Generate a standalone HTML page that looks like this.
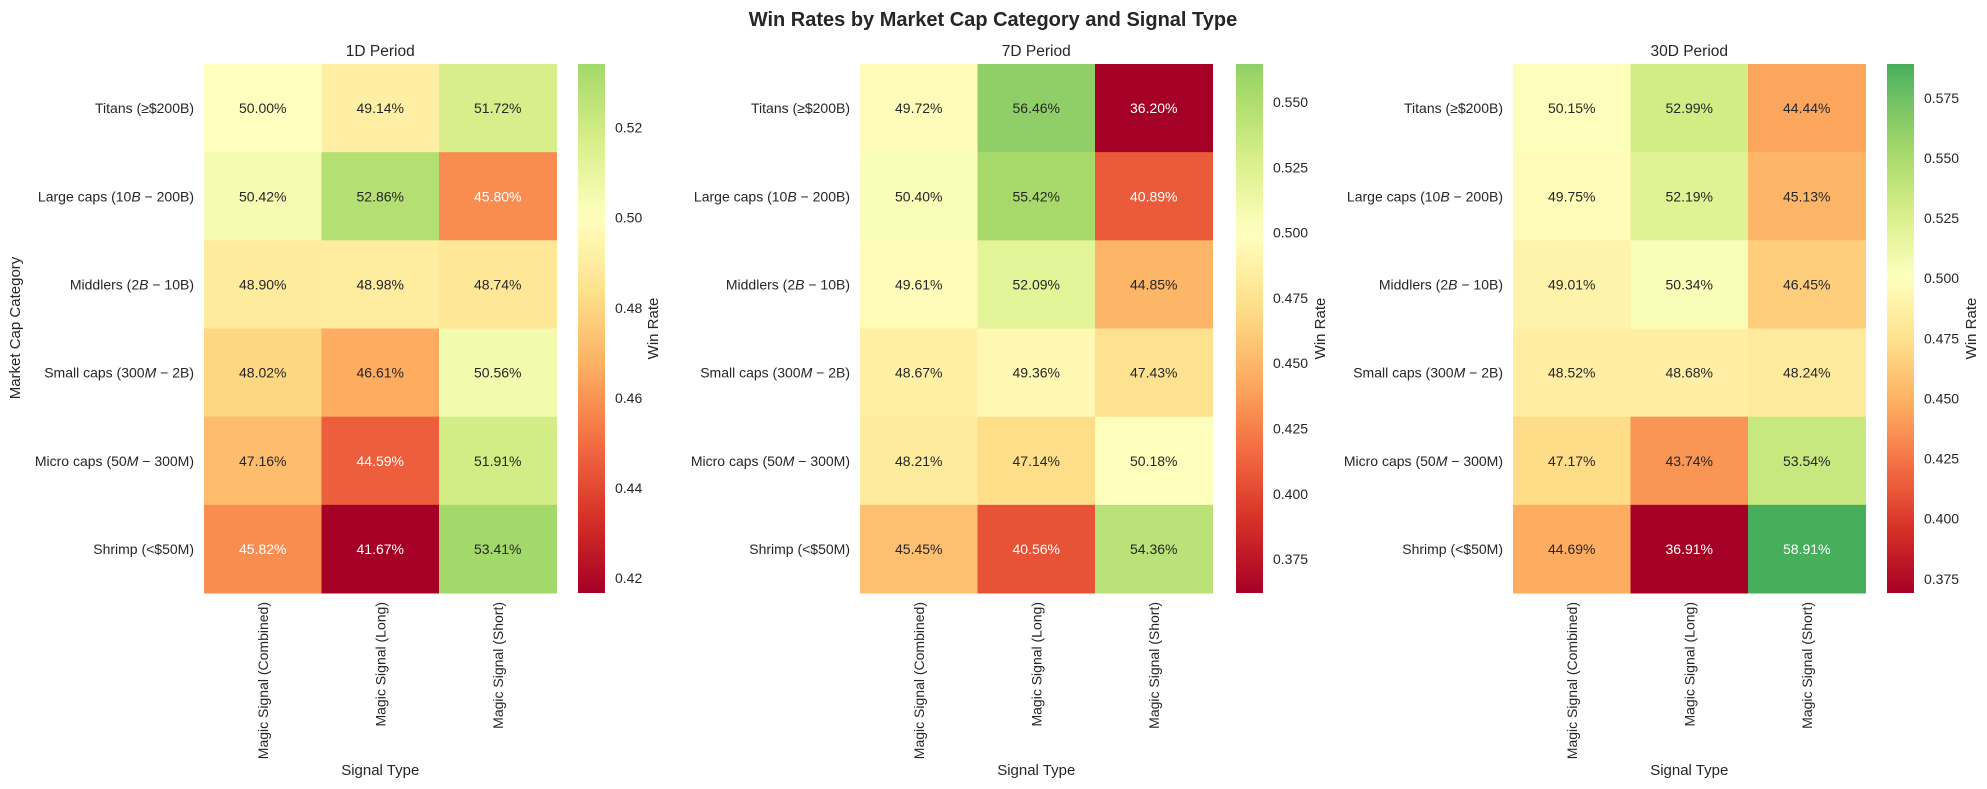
<!DOCTYPE html>
<html><head><meta charset="utf-8">
<style>
html,body{margin:0;padding:0;background:#fff;}
svg{display:block;font-family:"Liberation Sans","DejaVu Sans",sans-serif;}
</style></head>
<body>
<svg id="s" width="1987" height="789" xmlns="http://www.w3.org/2000/svg">
<text x="993" y="26" text-anchor="middle" font-size="20" font-weight="bold" fill="#262626">Win Rates by Market Cap Category and Signal Type</text>
<text transform="translate(20,328) rotate(-90)" text-anchor="middle" font-size="15" fill="#262626">Market Cap Category</text>
</svg>
<script>
(function(){
const NS="http://www.w3.org/2000/svg";
const svg=document.getElementById('s');
function el(t,a,txt){const e=document.createElementNS(NS,t);for(const k in a)e.setAttribute(k,a[k]);if(txt!==undefined)e.innerHTML=txt;svg.appendChild(e);return e;}
const stops=["#a50026","#d73027","#f46d43","#fdae61","#fee08b","#ffffbf","#d9ef8b","#a6d96a","#66bd63","#1a9850","#006837"].map(h=>[parseInt(h.slice(1,3),16),parseInt(h.slice(3,5),16),parseInt(h.slice(5,7),16)]);
function cmap(t){t=Math.max(0,Math.min(1,t));const p=t*10;let i=Math.floor(p);if(i>=10)i=9;const f=p-i;const a=stops[i],b=stops[i+1];return [0,1,2].map(k=>Math.round(a[k]+(b[k]-a[k])*f));}
function hex(c){return "rgb("+c.join(",")+")";}
function lum(c){const l=c.map(v=>{v/=255;return v<=0.03928?v/12.92:Math.pow((v+0.055)/1.055,2.4);});return 0.2126*l[0]+0.7152*l[1]+0.0722*l[2];}
const rows=["Titans (≥$200B)","Large caps (10<tspan font-style=\"italic\">B</tspan> − 200B)","Middlers (2<tspan font-style=\"italic\">B</tspan> − 10B)","Small caps (300<tspan font-style=\"italic\">M</tspan> − 2B)","Micro caps (50<tspan font-style=\"italic\">M</tspan> − 300M)","Shrimp (&lt;$50M)"];
const cols=["Magic Signal (Combined)","Magic Signal (Long)","Magic Signal (Short)"];
const panels=[
 {t:"1D Period",x:204,cb:578,d:[[50.00,49.14,51.72],[50.42,52.86,45.80],[48.90,48.98,48.74],[48.02,46.61,50.56],[47.16,44.59,51.91],[45.82,41.67,53.41]],ticks:[0.42,0.44,0.46,0.48,0.50,0.52],fmt:2},
 {t:"7D Period",x:860,cb:1236,d:[[49.72,56.46,36.20],[50.40,55.42,40.89],[49.61,52.09,44.85],[48.67,49.36,47.43],[48.21,47.14,50.18],[45.45,40.56,54.36]],ticks:[0.375,0.4,0.425,0.45,0.475,0.5,0.525,0.55],fmt:3},
 {t:"30D Period",x:1513,cb:1887,d:[[50.15,52.99,44.44],[49.75,52.19,45.13],[49.01,50.34,46.45],[48.52,48.68,48.24],[47.17,43.74,53.54],[44.69,36.91,58.91]],ticks:[0.375,0.4,0.425,0.45,0.475,0.5,0.525,0.55,0.575],fmt:3}
];
const TOP=64,BOT=593,H=BOT-TOP,rh=H/6,cw=117.5,cbw=27;
const defs=el('defs',{});
panels.forEach((p,pi)=>{
 const vals=p.d.flat().map(v=>v/100);
 const vmin=Math.min(...vals),vmax=Math.max(...vals);
 const r=Math.max(vmax-0.5,0.5-vmin);
 const tm=v=>0.5+(v-0.5)/(2*r);
 el('text',{x:p.x+1.5*cw,y:56,'text-anchor':'middle','font-size':15.5,fill:'#262626'},p.t);
 p.d.forEach((row,i)=>{
  row.forEach((v,j)=>{
   const c=cmap(tm(v/100));
   el('rect',{x:p.x+j*cw,y:TOP+i*rh,width:cw+0.5,height:rh+0.5,fill:hex(c)});
   el('text',{x:p.x+(j+0.5)*cw,y:TOP+(i+0.5)*rh+5,'text-anchor':'middle','font-size':14,fill:lum(c)>0.408?'#262626':'#ffffff'},v.toFixed(2)+"%");
  });
  el('text',{x:p.x-10,y:TOP+(i+0.5)*rh+5,'text-anchor':'end','font-size':14,fill:'#262626'},rows[i]);
 });
 cols.forEach((c,j)=>{
  const cx=p.x+(j+0.5)*cw;
  el('text',{transform:`translate(${cx+5},${BOT+9}) rotate(-90)`,'text-anchor':'end','font-size':14,fill:'#262626'},c);
 });
 el('text',{x:p.x+1.5*cw,y:775,'text-anchor':'middle','font-size':15,fill:'#262626'},"Signal Type");
 const g=document.createElementNS(NS,'linearGradient');
 g.setAttribute('id','g'+pi);g.setAttribute('x1','0');g.setAttribute('y1','1');g.setAttribute('x2','0');g.setAttribute('y2','0');
 for(let k=0;k<=40;k++){const f=k/40;const v=vmin+(vmax-vmin)*f;const s=document.createElementNS(NS,'stop');s.setAttribute('offset',f);s.setAttribute('stop-color',hex(cmap(tm(v))));g.appendChild(s);}
 defs.appendChild(g);
 el('rect',{x:p.cb,y:TOP,width:cbw,height:H,fill:`url(#g${pi})`});
 p.ticks.forEach(t=>{
  const y=BOT-(t-vmin)/(vmax-vmin)*H;
  el('text',{x:p.cb+cbw+10,y:y+5,'font-size':14,fill:'#262626'},t.toFixed(p.fmt));
 });
 const lx=p.cb+cbw+(p.fmt==2?53:62);
 el('text',{transform:`translate(${lx},${(TOP+BOT)/2}) rotate(-90)`,'text-anchor':'middle','font-size':15,fill:'#262626'},"Win Rate");
});
})();
</script>
</body></html>
